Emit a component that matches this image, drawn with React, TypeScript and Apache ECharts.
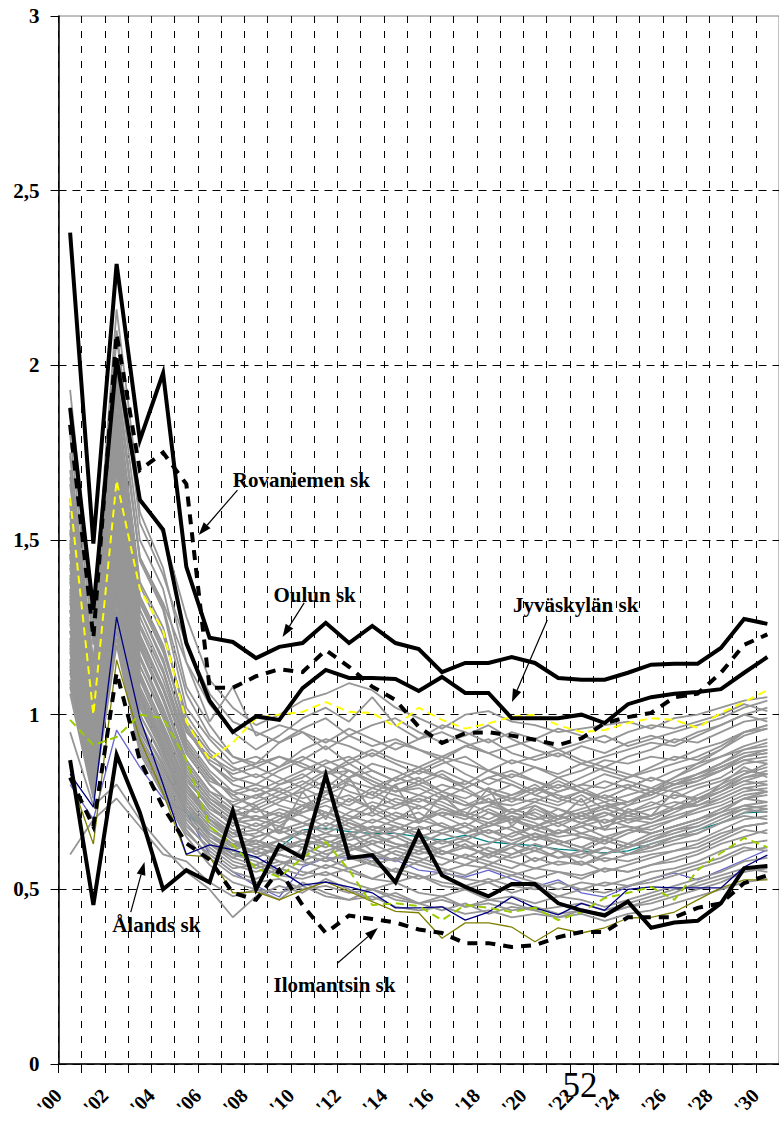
import React, { useEffect, useRef } from 'react';
import * as echarts from 'echarts';

// School-year categories, 2000 .. 2030
const yearLabels = [
  "'00", "'01", "'02", "'03", "'04", "'05", "'06", "'07", "'08", "'09",
  "'10", "'11", "'12", "'13", "'14", "'15", "'16", "'17", "'18", "'19",
  "'20", "'21", "'22", "'23", "'24", "'25", "'26", "'27", "'28", "'29", "'30",
];

// Value-axis ticks
const yTicks = [0, 0.5, 1, 1.5, 2, 2.5, 3];

// Highlighted schools
const oulu = [2.38, 1.49, 2.29, 1.786, 1.978, 1.423, 1.22, 1.208, 1.162, 1.194, 1.205, 1.263, 1.205, 1.254, 1.205, 1.188, 1.122, 1.148, 1.148, 1.165, 1.148, 1.105, 1.1, 1.1, 1.12, 1.143, 1.146, 1.146, 1.191, 1.274, 1.26];
const jyvaskyla = [1.878, 1.3, 2.02, 1.615, 1.53, 1.205, 1.04, 0.95, 0.995, 0.985, 1.076, 1.128, 1.105, 1.105, 1.102, 1.068, 1.108, 1.062, 1.062, 0.99, 0.99, 0.99, 1.0, 0.976, 1.03, 1.05, 1.06, 1.065, 1.073, 1.12, 1.165];
const rovaniemi = [1.83, 1.22, 2.09, 1.7, 1.75, 1.66, 1.077, 1.077, 1.11, 1.13, 1.122, 1.185, 1.137, 1.08, 1.042, 0.965, 0.919, 0.947, 0.95, 0.94, 0.928, 0.913, 0.932, 0.976, 0.993, 1.005, 1.05, 1.06, 1.12, 1.2, 1.23];
const aland = [0.87, 0.455, 0.885, 0.72, 0.5, 0.555, 0.52, 0.725, 0.5, 0.627, 0.59, 0.827, 0.59, 0.598, 0.52, 0.664, 0.54, 0.507, 0.48, 0.515, 0.515, 0.46, 0.44, 0.425, 0.465, 0.39, 0.405, 0.41, 0.46, 0.56, 0.567];
const ilomantsi = [0.82, 0.68, 1.12, 0.87, 0.735, 0.632, 0.585, 0.49, 0.47, 0.555, 0.455, 0.375, 0.425, 0.415, 0.405, 0.385, 0.375, 0.346, 0.346, 0.335, 0.34, 0.363, 0.378, 0.378, 0.42, 0.42, 0.42, 0.447, 0.46, 0.518, 0.54];

// Coloured schools
const yellowSchool = [1.62, 1.0, 1.67, 1.36, 1.24, 0.98, 0.87, 0.92, 0.99, 1.0, 1.008, 1.036, 1.008, 1.005, 0.965, 1.02, 0.985, 0.96, 0.975, 0.994, 1.0, 0.97, 0.95, 0.956, 0.976, 0.99, 0.985, 0.962, 1.005, 1.036, 1.07];
const limeSchool = [0.985, 0.913, 0.936, 1.0, 0.99, 0.87, 0.68, 0.627, 0.56, 0.535, 0.59, 0.636, 0.555, 0.455, 0.46, 0.452, 0.412, 0.455, 0.447, 0.435, 0.447, 0.412, 0.435, 0.475, 0.49, 0.507, 0.47, 0.555, 0.604, 0.647, 0.621];
const navySchool = [0.83, 0.735, 1.28, 0.99, 0.8, 0.6, 0.627, 0.613, 0.593, 0.555, 0.512, 0.521, 0.507, 0.49, 0.447, 0.447, 0.45, 0.412, 0.435, 0.478, 0.447, 0.427, 0.46, 0.44, 0.5, 0.507, 0.504, 0.504, 0.504, 0.564, 0.598];
const oliveSchool = [0.82, 0.63, 1.157, 0.93, 0.775, 0.598, 0.593, 0.49, 0.493, 0.47, 0.498, 0.521, 0.494, 0.465, 0.437, 0.433, 0.36, 0.404, 0.404, 0.392, 0.35, 0.39, 0.375, 0.39, 0.418, 0.42, 0.435, 0.47, 0.504, 0.527, 0.527];
const slateSchool = [0.8, 0.7, 0.956, 0.85, 0.76, 0.72, 0.6, 0.55, 0.51, 0.478, 0.564, 0.59, 0.59, 0.59, 0.584, 0.555, 0.547, 0.535, 0.555, 0.53, 0.507, 0.527, 0.49, 0.478, 0.507, 0.53, 0.547, 0.527, 0.555, 0.584, 0.613];
const tealSchool = [1.13, 0.82, 1.35, 1.05, 0.9, 0.72, 0.66, 0.6, 0.59, 0.62, 0.67, 0.675, 0.665, 0.66, 0.66, 0.65, 0.641, 0.655, 0.636, 0.63, 0.625, 0.615, 0.61, 0.604, 0.61, 0.63, 0.65, 0.67, 0.69, 0.719, 0.722];

// All other schools (grey)
const otherSchools: number[][] = [
  [1.93, 1.28, 2.16, 1.62, 1.52, 1.28, 1.10, 1.02, 0.97, 1.00, 1.04, 1.06, 1.09, 1.07, 1.02, 0.99, 0.96, 1.00, 1.01, 0.98, 0.97, 0.95, 0.96, 0.97, 0.98, 0.96, 0.99, 1.00, 1.02, 1.04, 1.05],
  [1.86, 1.24, 2.08, 1.58, 1.42, 1.15, 1.03, 0.95, 0.90, 0.94, 0.99, 1.02, 0.98, 1.05, 0.97, 0.93, 0.97, 0.95, 0.92, 0.95, 0.93, 0.96, 0.94, 0.92, 0.95, 0.97, 0.96, 0.98, 1.00, 1.03, 1.01],
  [1.80, 1.20, 2.02, 1.50, 1.36, 1.08, 0.97, 0.88, 0.86, 0.92, 0.95, 0.90, 0.94, 0.97, 0.99, 0.95, 0.92, 0.94, 0.97, 0.93, 0.90, 0.88, 0.91, 0.89, 0.92, 0.94, 0.92, 0.95, 0.97, 1.00, 0.98],
  [1.74, 1.14, 1.97, 1.44, 1.30, 1.02, 0.93, 0.86, 0.88, 0.85, 0.90, 0.93, 0.91, 0.88, 0.92, 0.90, 0.87, 0.91, 0.89, 0.86, 0.88, 0.90, 0.87, 0.85, 0.88, 0.90, 0.93, 0.92, 0.95, 0.98, 0.99],
  [1.68, 1.10, 1.92, 1.38, 1.25, 0.98, 0.89, 0.82, 0.80, 0.84, 0.87, 0.91, 0.86, 0.89, 0.86, 0.83, 0.86, 0.88, 0.84, 0.82, 0.85, 0.83, 0.86, 0.84, 0.82, 0.85, 0.88, 0.87, 0.90, 0.94, 0.96],
  [1.62, 1.06, 1.87, 1.34, 1.20, 0.96, 0.86, 0.81, 0.83, 0.80, 0.82, 0.86, 0.88, 0.84, 0.81, 0.84, 0.87, 0.83, 0.80, 0.83, 0.81, 0.79, 0.82, 0.85, 0.83, 0.81, 0.84, 0.86, 0.88, 0.90, 0.92],
  [1.57, 1.03, 1.83, 1.30, 1.16, 0.93, 0.84, 0.78, 0.76, 0.80, 0.83, 0.79, 0.84, 0.81, 0.78, 0.80, 0.83, 0.79, 0.82, 0.80, 0.77, 0.80, 0.78, 0.81, 0.79, 0.82, 0.80, 0.83, 0.86, 0.89, 0.90],
  [1.53, 1.00, 1.79, 1.26, 1.12, 0.91, 0.82, 0.77, 0.79, 0.76, 0.78, 0.81, 0.78, 0.76, 0.80, 0.82, 0.78, 0.76, 0.79, 0.77, 0.80, 0.76, 0.78, 0.75, 0.77, 0.79, 0.78, 0.80, 0.82, 0.86, 0.87],
  [1.49, 0.97, 1.75, 1.23, 1.08, 0.89, 0.80, 0.74, 0.72, 0.75, 0.79, 0.76, 0.74, 0.78, 0.75, 0.73, 0.76, 0.79, 0.75, 0.74, 0.76, 0.74, 0.77, 0.73, 0.75, 0.78, 0.76, 0.79, 0.81, 0.84, 0.83],
  [1.46, 0.95, 1.71, 1.20, 1.05, 0.87, 0.78, 0.75, 0.77, 0.74, 0.72, 0.75, 0.77, 0.73, 0.76, 0.74, 0.71, 0.73, 0.76, 0.72, 0.74, 0.71, 0.73, 0.75, 0.72, 0.74, 0.77, 0.76, 0.79, 0.83, 0.85],
  [1.43, 0.93, 1.67, 1.17, 1.02, 0.85, 0.76, 0.71, 0.73, 0.71, 0.74, 0.72, 0.70, 0.74, 0.71, 0.69, 0.72, 0.70, 0.73, 0.70, 0.68, 0.71, 0.69, 0.72, 0.70, 0.71, 0.73, 0.74, 0.77, 0.80, 0.81],
  [1.39, 0.91, 1.63, 1.14, 1.00, 0.83, 0.75, 0.70, 0.68, 0.71, 0.69, 0.72, 0.70, 0.67, 0.70, 0.72, 0.68, 0.66, 0.69, 0.71, 0.67, 0.69, 0.66, 0.68, 0.70, 0.69, 0.71, 0.73, 0.75, 0.78, 0.79],
  [1.36, 0.89, 1.59, 1.12, 0.97, 0.82, 0.73, 0.69, 0.70, 0.68, 0.66, 0.69, 0.67, 0.70, 0.68, 0.65, 0.67, 0.69, 0.66, 0.68, 0.65, 0.66, 0.68, 0.65, 0.67, 0.66, 0.68, 0.70, 0.73, 0.76, 0.77],
  [1.33, 0.87, 1.55, 1.10, 0.95, 0.80, 0.72, 0.67, 0.65, 0.67, 0.69, 0.66, 0.64, 0.66, 0.68, 0.66, 0.63, 0.65, 0.67, 0.64, 0.66, 0.63, 0.65, 0.64, 0.62, 0.65, 0.67, 0.68, 0.71, 0.74, 0.75],
  [1.30, 0.86, 1.51, 1.07, 0.93, 0.79, 0.70, 0.66, 0.67, 0.64, 0.62, 0.65, 0.66, 0.63, 0.65, 0.62, 0.64, 0.62, 0.60, 0.63, 0.61, 0.64, 0.62, 0.60, 0.63, 0.62, 0.65, 0.66, 0.69, 0.72, 0.73],
  [1.27, 0.84, 1.48, 1.05, 0.91, 0.77, 0.69, 0.64, 0.62, 0.64, 0.66, 0.63, 0.61, 0.64, 0.62, 0.60, 0.62, 0.64, 0.61, 0.59, 0.61, 0.59, 0.60, 0.62, 0.60, 0.61, 0.63, 0.64, 0.67, 0.70, 0.71],
  [1.24, 0.83, 1.44, 1.03, 0.89, 0.76, 0.68, 0.63, 0.64, 0.61, 0.63, 0.60, 0.62, 0.60, 0.58, 0.61, 0.59, 0.57, 0.60, 0.58, 0.56, 0.58, 0.57, 0.59, 0.58, 0.60, 0.61, 0.63, 0.66, 0.68, 0.69],
  [1.21, 0.82, 1.40, 1.00, 0.87, 0.74, 0.66, 0.61, 0.59, 0.62, 0.60, 0.58, 0.60, 0.57, 0.59, 0.57, 0.55, 0.57, 0.56, 0.54, 0.56, 0.55, 0.53, 0.56, 0.55, 0.57, 0.58, 0.60, 0.63, 0.65, 0.67],
  [1.18, 0.80, 1.36, 0.98, 0.85, 0.72, 0.64, 0.60, 0.61, 0.58, 0.57, 0.59, 0.56, 0.58, 0.55, 0.53, 0.55, 0.53, 0.52, 0.54, 0.52, 0.50, 0.52, 0.51, 0.53, 0.55, 0.56, 0.58, 0.61, 0.63, 0.64],
  [1.15, 0.79, 1.32, 0.96, 0.83, 0.71, 0.63, 0.58, 0.56, 0.58, 0.55, 0.54, 0.56, 0.53, 0.52, 0.54, 0.51, 0.50, 0.52, 0.49, 0.51, 0.48, 0.50, 0.49, 0.51, 0.52, 0.54, 0.56, 0.58, 0.61, 0.62],
  [1.12, 0.78, 1.28, 0.93, 0.81, 0.69, 0.61, 0.56, 0.57, 0.54, 0.53, 0.55, 0.52, 0.50, 0.52, 0.49, 0.48, 0.50, 0.47, 0.48, 0.46, 0.48, 0.47, 0.45, 0.47, 0.49, 0.51, 0.53, 0.55, 0.58, 0.59],
  [1.09, 0.77, 1.24, 0.91, 0.79, 0.67, 0.59, 0.54, 0.52, 0.53, 0.50, 0.51, 0.49, 0.50, 0.47, 0.46, 0.48, 0.45, 0.46, 0.44, 0.45, 0.43, 0.44, 0.43, 0.45, 0.46, 0.48, 0.50, 0.52, 0.55, 0.56],
  [1.06, 0.76, 1.20, 0.89, 0.77, 0.65, 0.57, 0.52, 0.50, 0.49, 0.51, 0.48, 0.47, 0.48, 0.45, 0.44, 0.45, 0.43, 0.44, 0.42, 0.43, 0.42, 0.43, 0.41, 0.43, 0.44, 0.46, 0.48, 0.50, 0.52, 0.53],
  [1.40, 0.92, 1.60, 1.12, 0.96, 0.80, 0.70, 0.64, 0.60, 0.62, 0.64, 0.63, 0.66, 0.68, 0.67, 0.70, 0.72, 0.71, 0.74, 0.76, 0.75, 0.78, 0.80, 0.79, 0.82, 0.84, 0.86, 0.88, 0.91, 0.95, 0.97],
  [1.60, 1.05, 1.85, 1.30, 1.15, 0.95, 0.88, 0.84, 0.86, 0.88, 0.85, 0.83, 0.84, 0.80, 0.78, 0.79, 0.76, 0.74, 0.75, 0.72, 0.70, 0.71, 0.69, 0.67, 0.68, 0.66, 0.68, 0.70, 0.72, 0.74, 0.73],
  [1.26, 0.85, 1.47, 1.04, 0.90, 0.76, 0.68, 0.62, 0.63, 0.68, 0.73, 0.78, 0.82, 0.86, 0.84, 0.81, 0.78, 0.75, 0.72, 0.70, 0.67, 0.65, 0.66, 0.64, 0.67, 0.69, 0.72, 0.75, 0.78, 0.82, 0.83],
  [1.50, 0.98, 1.76, 1.22, 1.08, 0.90, 0.81, 0.78, 0.80, 0.78, 0.75, 0.72, 0.69, 0.66, 0.63, 0.62, 0.60, 0.62, 0.63, 0.66, 0.68, 0.70, 0.72, 0.74, 0.75, 0.77, 0.80, 0.82, 0.85, 0.88, 0.89],
  [1.34, 0.88, 1.56, 1.10, 0.95, 0.81, 0.74, 0.68, 0.74, 0.66, 0.78, 0.70, 0.82, 0.72, 0.80, 0.69, 0.77, 0.71, 0.79, 0.68, 0.74, 0.70, 0.76, 0.67, 0.73, 0.71, 0.78, 0.75, 0.80, 0.85, 0.82],
  [1.22, 0.81, 1.42, 1.00, 0.88, 0.75, 0.66, 0.60, 0.58, 0.55, 0.62, 0.59, 0.66, 0.61, 0.58, 0.64, 0.60, 0.63, 0.59, 0.62, 0.58, 0.61, 0.57, 0.60, 0.62, 0.64, 0.67, 0.69, 0.72, 0.76, 0.78],
  [0.95, 0.74, 0.80, 0.70, 0.62, 0.55, 0.50, 0.42, 0.48, 0.51, 0.49, 0.53, 0.50, 0.47, 0.49, 0.46, 0.44, 0.46, 0.43, 0.45, 0.44, 0.42, 0.44, 0.43, 0.45, 0.47, 0.49, 0.52, 0.54, 0.56, 0.55],
  [0.60, 0.70, 0.76, 0.68, 0.60, 0.58, 0.52, 0.48, 0.50, 0.47, 0.52, 0.49, 0.47, 0.50, 0.48, 0.46, 0.47, 0.45, 0.47, 0.46, 0.44, 0.45, 0.46, 0.44, 0.46, 0.48, 0.50, 0.51, 0.53, 0.55, 0.57],
  [1.20, 0.80, 1.38, 0.97, 0.85, 0.73, 0.66, 0.62, 0.65, 0.67, 0.64, 0.66, 0.69, 0.67, 0.65, 0.68, 0.66, 0.64, 0.67, 0.65, 0.68, 0.66, 0.69, 0.71, 0.74, 0.78, 0.82, 0.86, 0.90, 0.95, 0.96],
  [1.55, 1.02, 1.81, 1.28, 1.13, 0.92, 0.83, 0.76, 0.74, 0.77, 0.80, 0.84, 0.80, 0.77, 0.82, 0.85, 0.82, 0.80, 0.84, 0.81, 0.78, 0.82, 0.79, 0.76, 0.79, 0.77, 0.80, 0.82, 0.84, 0.87, 0.88],
  [1.45, 0.94, 1.70, 1.19, 1.04, 0.86, 0.77, 0.72, 0.70, 0.73, 0.71, 0.68, 0.72, 0.75, 0.73, 0.76, 0.74, 0.71, 0.69, 0.72, 0.75, 0.73, 0.70, 0.72, 0.69, 0.71, 0.74, 0.77, 0.80, 0.83, 0.86],
  [1.10, 0.78, 1.26, 0.92, 0.80, 0.68, 0.62, 0.57, 0.55, 0.57, 0.60, 0.58, 0.61, 0.63, 0.60, 0.58, 0.61, 0.59, 0.62, 0.60, 0.63, 0.61, 0.59, 0.62, 0.60, 0.62, 0.64, 0.66, 0.69, 0.71, 0.70],
  [1.30, 0.86, 1.52, 1.06, 0.92, 0.78, 0.70, 0.65, 0.66, 0.70, 0.74, 0.71, 0.76, 0.73, 0.70, 0.74, 0.71, 0.68, 0.72, 0.69, 0.73, 0.70, 0.72, 0.69, 0.71, 0.73, 0.75, 0.74, 0.76, 0.79, 0.80],
  [1.70, 1.12, 1.94, 1.45, 1.32, 1.15, 0.98, 1.08, 0.94, 0.97, 0.95, 0.92, 0.96, 0.93, 0.90, 0.93, 0.95, 0.92, 0.89, 0.91, 0.93, 0.90, 0.92, 0.94, 0.91, 0.93, 0.95, 0.97, 0.99, 1.02, 1.04],
  [1.38, 0.90, 1.62, 1.14, 0.99, 0.83, 0.75, 0.70, 0.71, 0.69, 0.72, 0.74, 0.71, 0.69, 0.72, 0.70, 0.73, 0.71, 0.68, 0.70, 0.72, 0.69, 0.71, 0.73, 0.71, 0.70, 0.73, 0.76, 0.78, 0.81, 0.80],
  [1.16, 0.80, 1.34, 0.95, 0.84, 0.72, 0.64, 0.59, 0.62, 0.60, 0.58, 0.61, 0.63, 0.60, 0.62, 0.64, 0.61, 0.59, 0.57, 0.60, 0.62, 0.59, 0.61, 0.58, 0.60, 0.63, 0.65, 0.67, 0.70, 0.73, 0.74],
  [1.48, 0.96, 1.74, 1.21, 1.07, 0.89, 0.80, 0.74, 0.77, 0.79, 0.76, 0.78, 0.81, 0.79, 0.77, 0.75, 0.78, 0.81, 0.78, 0.76, 0.79, 0.77, 0.75, 0.78, 0.80, 0.78, 0.81, 0.83, 0.85, 0.88, 0.90],
  [1.88, 1.26, 2.10, 1.55, 1.40, 1.20, 1.06, 0.98, 0.95, 0.92, 0.96, 0.99, 0.94, 0.91, 0.93, 0.90, 0.88, 0.91, 0.93, 0.89, 0.87, 0.89, 0.86, 0.88, 0.90, 0.92, 0.91, 0.94, 0.97, 1.00, 1.02],
  [1.58, 1.04, 1.82, 1.32, 1.18, 0.97, 0.87, 0.83, 0.85, 0.82, 0.79, 0.83, 0.86, 0.82, 0.79, 0.77, 0.80, 0.78, 0.75, 0.77, 0.79, 0.76, 0.74, 0.77, 0.75, 0.78, 0.80, 0.81, 0.84, 0.87, 0.86],
  [1.42, 0.93, 1.66, 1.16, 1.01, 0.84, 0.76, 0.72, 0.75, 0.78, 0.81, 0.78, 0.75, 0.79, 0.82, 0.80, 0.77, 0.74, 0.77, 0.80, 0.77, 0.75, 0.78, 0.76, 0.74, 0.76, 0.79, 0.81, 0.84, 0.88, 0.89],
  [1.35, 0.89, 1.58, 1.11, 0.97, 0.82, 0.74, 0.69, 0.67, 0.70, 0.73, 0.76, 0.73, 0.71, 0.74, 0.77, 0.75, 0.72, 0.70, 0.73, 0.71, 0.68, 0.71, 0.74, 0.72, 0.75, 0.73, 0.76, 0.79, 0.82, 0.84],
  [1.28, 0.85, 1.50, 1.06, 0.92, 0.78, 0.70, 0.66, 0.69, 0.66, 0.68, 0.71, 0.68, 0.65, 0.67, 0.70, 0.68, 0.66, 0.69, 0.67, 0.64, 0.67, 0.65, 0.63, 0.66, 0.68, 0.70, 0.72, 0.74, 0.77, 0.78],
  [1.24, 0.83, 1.45, 1.02, 0.89, 0.75, 0.67, 0.63, 0.61, 0.64, 0.67, 0.64, 0.62, 0.65, 0.63, 0.61, 0.64, 0.62, 0.60, 0.62, 0.65, 0.63, 0.61, 0.64, 0.62, 0.64, 0.66, 0.68, 0.71, 0.73, 0.72],
  [1.14, 0.79, 1.30, 0.94, 0.82, 0.70, 0.63, 0.59, 0.57, 0.60, 0.58, 0.56, 0.59, 0.57, 0.55, 0.58, 0.56, 0.54, 0.57, 0.55, 0.53, 0.55, 0.54, 0.56, 0.55, 0.57, 0.59, 0.61, 0.64, 0.67, 0.66],
  [1.52, 0.99, 1.78, 1.25, 1.10, 0.91, 0.82, 0.77, 0.73, 0.76, 0.74, 0.77, 0.80, 0.77, 0.74, 0.76, 0.73, 0.71, 0.74, 0.72, 0.70, 0.73, 0.71, 0.69, 0.72, 0.70, 0.73, 0.75, 0.78, 0.81, 0.83],
  [1.66, 1.09, 1.90, 1.37, 1.23, 1.00, 0.90, 0.85, 0.82, 0.85, 0.88, 0.85, 0.82, 0.84, 0.81, 0.84, 0.82, 0.79, 0.82, 0.84, 0.81, 0.78, 0.80, 0.83, 0.81, 0.79, 0.82, 0.85, 0.88, 0.91, 0.93],
  [1.32, 0.87, 1.53, 1.08, 0.94, 0.80, 0.71, 0.66, 0.63, 0.61, 0.64, 0.62, 0.65, 0.68, 0.66, 0.63, 0.66, 0.68, 0.65, 0.63, 0.66, 0.64, 0.62, 0.65, 0.63, 0.66, 0.68, 0.70, 0.73, 0.76, 0.75],
  [1.19, 0.81, 1.37, 0.97, 0.86, 0.73, 0.65, 0.61, 0.64, 0.62, 0.60, 0.63, 0.60, 0.58, 0.61, 0.59, 0.57, 0.60, 0.58, 0.56, 0.59, 0.57, 0.58, 0.55, 0.57, 0.59, 0.61, 0.62, 0.65, 0.68, 0.69],
  [1.62, 1.07, 1.86, 1.33, 1.19, 0.96, 0.86, 0.80, 0.78, 0.81, 0.84, 0.87, 0.84, 0.81, 0.78, 0.81, 0.84, 0.81, 0.78, 0.75, 0.78, 0.81, 0.78, 0.76, 0.79, 0.82, 0.80, 0.83, 0.86, 0.90, 0.91],
  [1.46, 0.95, 1.72, 1.20, 1.05, 0.87, 0.78, 0.73, 0.70, 0.72, 0.69, 0.67, 0.70, 0.72, 0.69, 0.67, 0.69, 0.66, 0.68, 0.71, 0.69, 0.66, 0.68, 0.70, 0.68, 0.67, 0.70, 0.73, 0.76, 0.79, 0.78],
  [1.08, 0.77, 1.22, 0.90, 0.78, 0.66, 0.60, 0.55, 0.53, 0.56, 0.54, 0.57, 0.55, 0.53, 0.56, 0.54, 0.52, 0.51, 0.53, 0.51, 0.50, 0.52, 0.50, 0.52, 0.51, 0.53, 0.55, 0.57, 0.59, 0.62, 0.61],
  [1.75, 1.15, 1.98, 1.45, 1.31, 1.06, 0.94, 0.88, 0.85, 0.88, 0.86, 0.83, 0.87, 0.90, 0.87, 0.85, 0.88, 0.86, 0.84, 0.87, 0.85, 0.82, 0.84, 0.87, 0.86, 0.88, 0.87, 0.90, 0.92, 0.95, 0.97],
];

// Annotation placement in data units: [category index, value]
const notes = [
  { text: 'Rovaniemen sk', label: [7.0, 1.672], tail: [7.2, 1.643], tip: [5.53, 1.514] },
  { text: 'Oulun sk', label: [8.75, 1.342], tail: [10.07, 1.32], tip: [9.14, 1.222] },
  { text: 'Jyväskylän sk', label: [19.05, 1.314], tail: [20.53, 1.271], tip: [19.01, 1.036] },
  { text: 'Ålands sk', label: [1.81, 0.398], tail: [2.61, 0.435], tip: [3.2, 0.578] },
  { text: 'Ilomantsin sk', label: [8.75, 0.226], tail: [11.51, 0.289], tip: [13.24, 0.389] },
];

const pageNumber = '52';

const SERIF = 'Liberation Serif';

export default function App() {
  const ref = useRef<HTMLDivElement>(null);

  useEffect(() => {
    if (!ref.current) return;
    const chart = echarts.init(ref.current, undefined, { renderer: 'svg' });

    const thin = (name: string, data: number[], color: string, z: number, dashed = false) => ({
      name,
      type: 'line',
      data,
      symbol: 'none',
      silent: true,
      z,
      lineStyle: dashed
        ? { color, width: 2, type: [8, 5] }
        : { color, width: 1.3 },
    });

    const bold = (name: string, data: number[], dashed = false) => ({
      name,
      type: 'line',
      data,
      symbol: 'none',
      silent: true,
      z: 4,
      lineStyle: {
        color: '#000',
        width: 4,
        type: dashed ? [10, 8] : 'solid',
        join: 'miter',
        miterLimit: 6,
      },
    });

    const series: any[] = [
      thin('teal', tealSchool, '#008080', 1),
      thin('slate', slateSchool, '#6666CC', 1),
      ...otherSchools.map((d, i) => ({
        name: 'school' + i,
        type: 'line',
        data: d,
        symbol: 'none',
        silent: true,
        z: 2,
        lineStyle: { color: '#969696', width: 1.8 },
      })),
      thin('olive', oliveSchool, '#808000', 3),
      thin('navy', navySchool, '#000080', 3),
      thin('lime', limeSchool, '#99CC00', 3, true),
      thin('yellow', yellowSchool, '#FFFF00', 3, true),
      bold('Rovaniemen sk', rovaniemi, true),
      bold('Ilomantsin sk', ilomantsi, true),
      bold('Jyväskylän sk', jyvaskyla),
      bold('Oulun sk', oulu),
      bold('Ålands sk', aland),
    ];

    chart.setOption({
      animation: false,
      backgroundColor: '#fff',
      grid: {
        left: 58.5,
        top: 16,
        width: 731.5,
        height: 1048,
        show: true,
        borderColor: '#808080',
        borderWidth: 1,
        backgroundColor: 'transparent',
      },
      xAxis: {
        type: 'category',
        data: yearLabels,
        boundaryGap: true,
        axisLine: { lineStyle: { color: '#000', width: 1.5 } },
        axisTick: { show: true, interval: 0, length: 9, lineStyle: { color: '#000' } },
        axisLabel: { show: false },
        splitLine: {
          show: true,
          interval: 0,
          lineStyle: { color: '#000', width: 1, type: [7, 8] },
        },
      },
      yAxis: {
        type: 'value',
        min: 0,
        max: 3,
        interval: 0.5,
        axisLine: { show: true, lineStyle: { color: '#000', width: 1.5 } },
        axisTick: { show: true, length: 8, lineStyle: { color: '#000' } },
        axisLabel: { show: false },
        splitLine: {
          show: true,
          showMaxLine: false,
          lineStyle: { color: '#000', width: 1, type: [8, 6] },
        },
      },
      series,
    });

    // Pixel helpers: category positions interpolated between band centres
    const p0 = chart.convertToPixel({ gridIndex: 0 }, [0, 0]) as number[];
    const p1 = chart.convertToPixel({ gridIndex: 0 }, [1, 1]) as number[];
    const band = p1[0] - p0[0];
    const toPx = (c: number[]) => [
      p0[0] + band * c[0],
      p0[1] + (p1[1] - p0[1]) * c[1],
    ];
    const axisX = p0[0] - band / 2;
    const axisY = p0[1];

    const graphics: any[] = [];

    // Value-axis tick labels
    yTicks.forEach((v) => {
      const y = toPx([0, v])[1];
      graphics.push({
        type: 'text',
        x: axisX - 19,
        y,
        z: 10,
        style: {
          text: String(v).replace('.', ','),
          fill: '#000',
          fontFamily: SERIF,
          fontWeight: 'bold',
          fontSize: 21,
          textAlign: 'right',
          textVerticalAlign: 'middle',
        },
      });
    });

    // Category labels, every second year, rotated 45°
    yearLabels.forEach((lab, i) => {
      if (i % 2 !== 0) return;
      const cx = toPx([i, 0])[0];
      graphics.push({
        type: 'group',
        x: cx - 12,
        y: axisY + 28,
        rotation: Math.PI / 4,
        z: 10,
        children: [
          {
            type: 'text',
            x: 0,
            y: 0,
            style: {
              text: lab,
              fill: '#000',
              fontFamily: SERIF,
              fontWeight: 'bold',
              fontSize: 20,
              textAlign: 'right',
              textVerticalAlign: 'middle',
            },
          },
        ],
      });
    });

    // Annotations with arrows
    notes.forEach((n) => {
      const lp = toPx(n.label);
      const a = toPx(n.tail);
      const b = toPx(n.tip);
      const dx = b[0] - a[0];
      const dy = b[1] - a[1];
      const len = Math.hypot(dx, dy);
      const ux = dx / len;
      const uy = dy / len;
      const headLen = 13;
      const headHalf = 4.5;
      const bx = b[0] - ux * headLen;
      const by = b[1] - uy * headLen;
      graphics.push({
        type: 'text',
        x: lp[0],
        y: lp[1],
        z: 10,
        style: {
          text: n.text,
          fill: '#000',
          fontFamily: SERIF,
          fontWeight: 'bold',
          fontSize: 21,
          textAlign: 'left',
          textVerticalAlign: 'middle',
        },
      });
      graphics.push({
        type: 'line',
        z: 10,
        shape: { x1: a[0], y1: a[1], x2: bx, y2: by },
        style: { stroke: '#000', lineWidth: 1.2 },
      });
      graphics.push({
        type: 'polygon',
        z: 10,
        shape: {
          points: [
            [b[0], b[1]],
            [bx - uy * headHalf, by + ux * headHalf],
            [bx + uy * headHalf, by - ux * headHalf],
          ],
        },
        style: { fill: '#000' },
      });
    });

    graphics.push({
      type: 'text',
      x: 580,
      y: 1085,
      z: 11,
      style: {
        text: pageNumber,
        fill: '#000',
        fontFamily: SERIF,
        fontSize: 35,
        textAlign: 'center',
        textVerticalAlign: 'middle',
      },
    });

    chart.setOption({ graphic: graphics });

    return () => chart.dispose();
  }, []);

  return (
    <div
      ref={ref}
      style={{ position: 'absolute', left: 0, top: 0, width: 779, height: 1121 }}
    />
  );
}
